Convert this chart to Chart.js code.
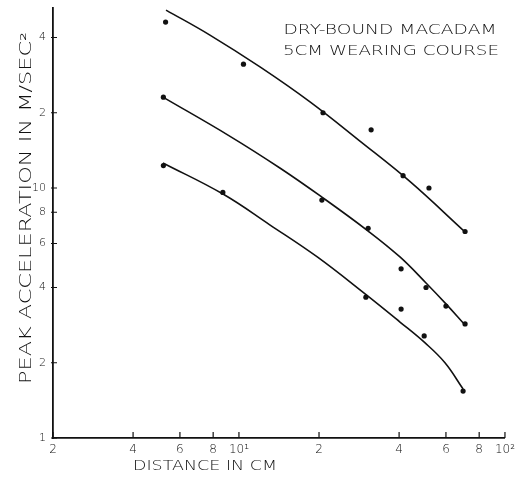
<!DOCTYPE html>
<html>
<head>
<meta charset="utf-8">
<script src="https://cdn.jsdelivr.net/npm/chart.js@4/dist/chart.umd.min.js"></script>
<style>
  html, body { margin: 0; padding: 0; background: #fff; }
  #wrap { width: 520px; height: 487px; }
</style>
</head>
<body>
<div id="wrap"><canvas id="myChart" width="520" height="487"></canvas></div>
<script>
// Valori (distanza in cm, accelerazione in m/s^2)

// punti misurati
const topX = [5.3, 10.4, 20.7, 31.4, 41.4, 51.8, 70.8];
const topY = [46.1, 31.3, 20.0, 17.1, 11.2, 10.0, 6.7];
const midX = [5.2, 20.5, 30.6, 40.7, 50.5, 60.0, 70.8];
const midY = [23.1, 8.95, 6.9, 4.75, 4.0, 3.37, 2.86];
const lowX = [5.2, 8.7, 30.0, 40.7, 49.7, 69.6];
const lowY = [12.3, 9.6, 3.66, 3.28, 2.56, 1.54];

// curve tracciate a mano
const topCurveX = [5.32, 7.78, 12.0, 18.5, 28.5, 44.0, 70.8];
const topCurveY = [51.5, 40.9, 30.5, 22.1, 15.4, 10.6, 6.67];
const midCurveX = [5.18, 9.26, 14.3, 20.5, 30.6, 40.3, 50.5, 60.0, 70.8];
const midCurveY = [23.1, 16.1, 12.0, 9.2, 6.73, 5.3, 4.17, 3.44, 2.83];
const lowCurveX = [5.18, 8.71, 13.1, 19.7, 29.8, 40.3, 50.1, 59.5, 69.6];
const lowCurveY = [12.6, 9.46, 7.11, 5.3, 3.77, 2.91, 2.4, 2.0, 1.57];

// tick
const xTickValues = [2, 4, 6, 8, 10, 20, 40, 60, 80, 100];
const xTickLabels = ['2', '4', '6', '8', '10\u00B9', '2', '4', '6', '8', '10\u00B2'];
const yTickValues = [1, 2, 4, 6, 8, 10, 20, 40];
const yTickLabels = ['1', '2', '4', '6', '8', '10', '2', '4'];

const ink = '#111';
const font = '"DejaVu Sans", sans-serif';

function toPoints(xs, ys) {
    return xs.map((x, i) => ({ x: x, y: ys[i] }));
}

function dots(xs, ys) {
    return {
        data: toPoints(xs, ys),
        showLine: false,
        pointRadius: 2.6,
        pointBackgroundColor: ink,
        pointBorderWidth: 0
    };
}

function curve(xs, ys) {
    return {
        data: toPoints(xs, ys),
        showLine: true,
        borderColor: ink,
        borderWidth: 1.6,
        pointRadius: 0,
        tension: 0.4
    };
}

// testo allargato fino a una larghezza data
function stretchText(ctx, text, cx, cy, width, size, rot) {
    ctx.save();
    ctx.font = '200 ' + size + 'px ' + font;
    ctx.fillStyle = ink;
    ctx.textAlign = 'center';
    ctx.textBaseline = 'middle';
    ctx.translate(cx, cy);
    if (rot) ctx.rotate(rot);
    const w = ctx.measureText(text).width;
    ctx.scale(width / w, 1);
    ctx.fillText(text, 0, 0);
    ctx.restore();
}

const decor = {
    id: 'decor',
    afterDraw(chart) {
        const ctx = chart.ctx;
        const xs = chart.scales.x, ys = chart.scales.y;
        // tick interni
        ctx.save();
        ctx.strokeStyle = ink;
        ctx.lineWidth = 1.2;
        ctx.beginPath();
        xTickValues.forEach(v => {
            const px = xs.getPixelForValue(v);
            ctx.moveTo(px, ys.bottom);
            ctx.lineTo(px, ys.bottom - 6);
        });
        yTickValues.forEach(v => {
            const py = ys.getPixelForValue(v);
            ctx.moveTo(xs.left - 2, py);
            ctx.lineTo(xs.left + 4, py);
        });
        ctx.stroke();
        ctx.restore();

        stretchText(ctx, 'PEAK ACCELERATION IN M/SEC\u00B2', 27, 208, 352, 15, -Math.PI / 2);
        stretchText(ctx, 'DISTANCE IN CM', 205, 466, 144, 14);
        stretchText(ctx, 'DRY-BOUND MACADAM', 390, 30, 213, 14);
        stretchText(ctx, '5CM WEARING COURSE', 391, 51, 216, 14);
    }
};

const ctx = document.getElementById('myChart').getContext('2d');
const myChart = new Chart(ctx, {
    type: 'scatter',
    data: {
        datasets: [
            curve(topCurveX, topCurveY),
            curve(midCurveX, midCurveY),
            curve(lowCurveX, lowCurveY),
            dots(topX, topY),
            dots(midX, midY),
            dots(lowX, lowY)
        ]
    },
    options: {
        responsive: false,
        animation: false,
        layout: { padding: { top: 8, right: 15, left: 0, bottom: 0 } },
        scales: {
            x: {
                type: 'logarithmic',
                min: 2,
                max: 100,
                afterBuildTicks: s => { s.ticks = xTickValues.map(v => ({ value: v })); },
                afterFit: s => { s.height = 49; },
                grid: { display: false, drawTicks: false },
                border: { display: true, color: ink, width: 1.8 },
                ticks: {
                    autoSkip: false,
                    maxRotation: 0,
                    padding: 5,
                    color: ink,
                    font: { family: font, size: 12, weight: 200 },
                    callback: (v) => xTickLabels[xTickValues.indexOf(v)]
                }
            },
            y: {
                type: 'logarithmic',
                min: 1,
                max: 52.5,
                afterBuildTicks: s => { s.ticks = yTickValues.map(v => ({ value: v })); },
                afterFit: s => { s.width = 53; s.paddingTop = 0; s.paddingBottom = 0; },
                grid: { display: false, drawTicks: false },
                border: { display: true, color: ink, width: 1.8 },
                ticks: {
                    autoSkip: false,
                    padding: 7,
                    color: ink,
                    font: { family: font, size: 11, weight: 200, lineHeight: 0.6 },
                    callback: (v) => yTickLabels[yTickValues.indexOf(v)]
                }
            }
        },
        plugins: {
            legend: { display: false },
            tooltip: { enabled: false }
        }
    },
    plugins: [decor]
});
</script>
</body>
</html>
